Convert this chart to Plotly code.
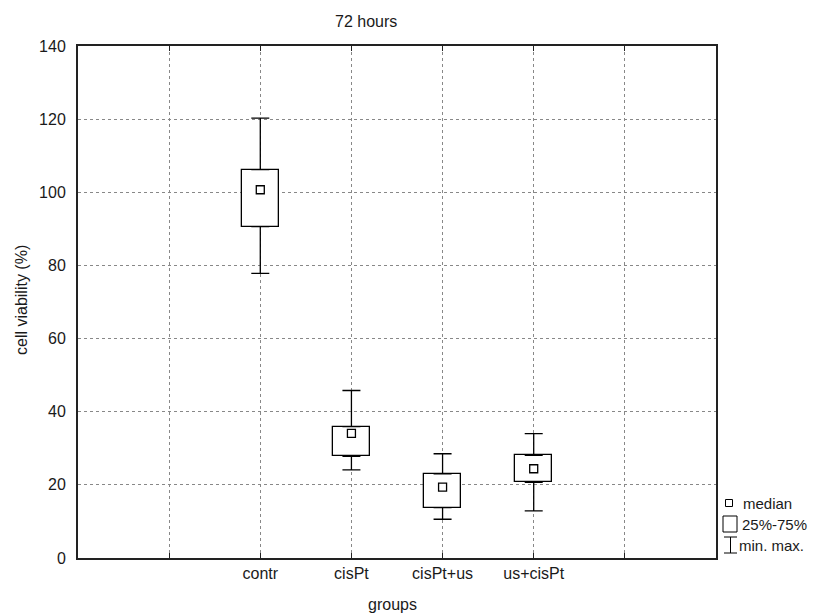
import plotly.graph_objects as go

# ---- data ----
groups = ["contr", "cisPt", "cisPt+us", "us+cisPt"]
minimum = [77.8, 24.1, 10.6, 12.9]
q1 = [90.6, 27.8, 13.8, 20.7]
median = [100.7, 34.1, 19.4, 24.4]
q3 = [106.2, 35.9, 23.0, 28.1]
maximum = [120.3, 45.8, 28.5, 34.0]
y_ticks = [0, 20, 40, 60, 80, 100, 120, 140]

OFF = 8  # page body margin
W, H = 810, 607
ML, MR, MT, MB = 70, 102, 38, 57
PW, PH = W - ML - MR, H - MT - MB

def px(x):
    return (x - OFF - ML) / PW

def py(y):
    return (H - MB - (y - OFF)) / PH

pos = [i + 2 for i in range(len(groups))]
FONT = "Liberation Sans, Arial, sans-serif"
TXT = "#1a1a1a"

fig = go.Figure()

# boxes (25%-75%)
fig.add_trace(go.Bar(
    x=pos, y=[b - a for a, b in zip(q1, q3)], base=q1, width=0.41,
    marker=dict(color="white", line=dict(color="black", width=1.3)),
    showlegend=False, hoverinfo="skip"))

# upper whiskers
fig.add_trace(go.Scatter(
    x=pos, y=q3, mode="markers", marker=dict(size=1, color="rgba(0,0,0,0)"),
    error_y=dict(type="data", symmetric=False,
                 array=[m - b for m, b in zip(maximum, q3)],
                 arrayminus=[0] * len(pos), color="black", thickness=1.3, width=9),
    showlegend=False, hoverinfo="skip"))
# lower whiskers
fig.add_trace(go.Scatter(
    x=pos, y=q1, mode="markers", marker=dict(size=1, color="rgba(0,0,0,0)"),
    error_y=dict(type="data", symmetric=False,
                 array=[0] * len(pos),
                 arrayminus=[a - m for a, m in zip(q1, minimum)],
                 color="black", thickness=1.3, width=9),
    showlegend=False, hoverinfo="skip"))

# medians
fig.add_trace(go.Scatter(
    x=pos, y=median, mode="markers",
    marker=dict(symbol="square", size=8, color="white",
                line=dict(color="black", width=1.3)),
    showlegend=False))

shapes = []
annotations = []

# manual legend
shapes.append(dict(type="rect", xref="paper", yref="paper",
                   x0=px(725.5), x1=px(732.5), y0=py(506.5), y1=py(499.5),
                   line=dict(color="black", width=1), fillcolor="white"))
shapes.append(dict(type="rect", xref="paper", yref="paper",
                   x0=px(723), x1=px(737), y0=py(532), y1=py(516),
                   line=dict(color="black", width=1), fillcolor="white"))
shapes.append(dict(type="line", xref="paper", yref="paper",
                   x0=px(730.5), x1=px(730.5), y0=py(537), y1=py(553),
                   line=dict(color="black", width=1)))
shapes.append(dict(type="line", xref="paper", yref="paper",
                   x0=px(724), x1=px(737), y0=py(537), y1=py(537),
                   line=dict(color="black", width=1)))
shapes.append(dict(type="line", xref="paper", yref="paper",
                   x0=px(724), x1=px(737), y0=py(553), y1=py(553),
                   line=dict(color="black", width=1)))
for label, xx, yy in [("median", 741, 503), ("25%-75%", 740, 524), ("min. max.", 737, 545)]:
    annotations.append(dict(text=label, xref="paper", yref="paper",
                            x=px(xx), y=py(yy), xanchor="left", yanchor="middle",
                            showarrow=False, font=dict(size=15, color=TXT, family=FONT)))

# titles
annotations.append(dict(text="72 hours", xref="paper", yref="paper",
                        x=px(366), y=py(21), xanchor="center", yanchor="middle",
                        showarrow=False, font=dict(size=16, color=TXT, family=FONT)))
annotations.append(dict(text="groups", xref="paper", yref="paper",
                        x=px(392), y=py(604), xanchor="center", yanchor="middle",
                        showarrow=False, font=dict(size=16, color=TXT, family=FONT)))
annotations.append(dict(text="cell viability (%)", xref="paper", yref="paper",
                        x=px(21), y=py(300), xanchor="center", yanchor="middle",
                        textangle=-90,
                        showarrow=False, font=dict(size=16, color=TXT, family=FONT)))

grid_x = list(range(1, 7))
ticktext = [""] + groups + [""]

fig.update_layout(
    width=W, height=H,
    margin=dict(l=ML, r=MR, t=MT, b=MB),
    paper_bgcolor="white", plot_bgcolor="white",
    font=dict(family=FONT, size=16, color=TXT),
    showlegend=False,
    shapes=shapes, annotations=annotations,
    bargap=0,
    xaxis=dict(range=[0, 7], tickmode="array", tickvals=grid_x, ticktext=ticktext,
               showgrid=True, gridcolor="#888888", griddash="dot", gridwidth=1,
               showline=True, linecolor="#222222", linewidth=2, mirror="ticks",
               ticks="inside", ticklen=5, tickcolor="#222222",
               tickfont=dict(size=16, color=TXT), zeroline=False, fixedrange=True),
    yaxis=dict(range=[0, 140], tickmode="array", tickvals=y_ticks,
               showgrid=True, gridcolor="#888888", griddash="dot", gridwidth=1,
               showline=True, linecolor="#222222", linewidth=2, mirror=True,
               ticks="", ticklabelstandoff=7,
               tickfont=dict(size=16, color=TXT), zeroline=False, fixedrange=True),
)

fig.write_html("out.html")
